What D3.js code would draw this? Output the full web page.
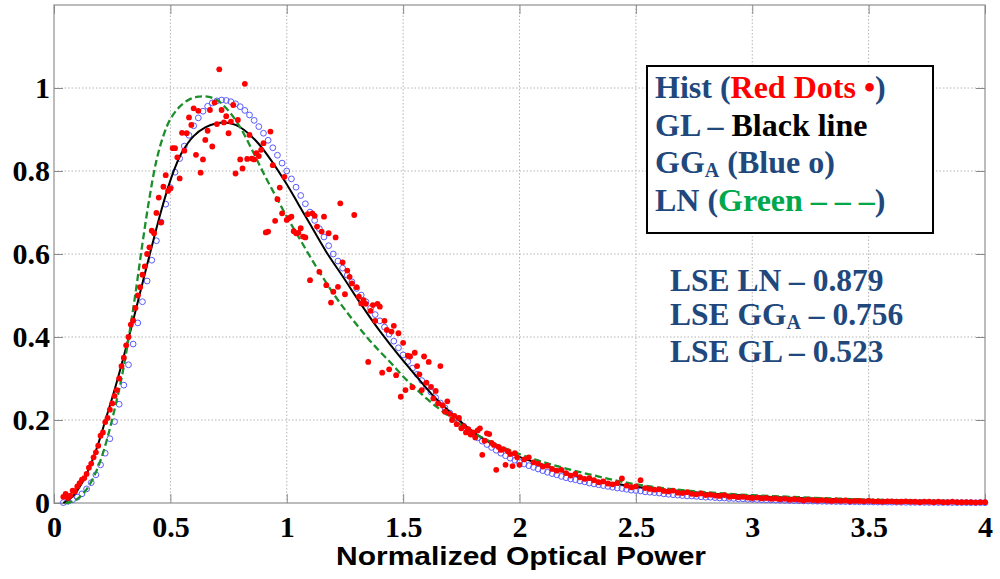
<!DOCTYPE html>
<html>
<head>
<meta charset="utf-8">
<script src="https://cdn.jsdelivr.net/npm/d3@7"></script>
<style>
  body { margin: 0; background: #fff; }
  .tick text { font-family: 'Liberation Serif', 'Times New Roman', serif; font-weight: bold; font-size: 30px; fill: #000; }
  .tick line { stroke: #8a8a8a; stroke-width: 1; }
</style>
</head>
<body>
<svg id="j-svg" width="1000" height="579" viewBox="0 0 1000 579"></svg>
<script>
/* global d3 */

// axis ticks
const xTicks = [0, 0.5, 1, 1.5, 2, 2.5, 3, 3.5, 4];
const yTicks = [0, 0.2, 0.4, 0.6, 0.8, 1];

// histogram (red dots): bins 0.04..1.99 step 0.01, then 2.00..4.00 step 0.02
const histStartA = 0.04, histStepA = 0.01;
const histA = [
  0.015, 0.022, 0.012, 0.018, 0.030, 0.028, 0.040, 0.048, 0.056, 0.060,
  0.070, 0.085, 0.095, 0.110, 0.122, 0.138, 0.162, 0.170, 0.195, 0.205,
  0.225, 0.240, 0.258, 0.272, 0.300, 0.330, 0.350, 0.380, 0.400, 0.430,
  0.440, 0.470, 0.500, 0.520, 0.550, 0.570, 0.600, 0.616, 0.656, 0.650,
  0.699, 0.736, 0.676, 0.762, 0.790, 0.752, 0.758, 0.855, 0.855, 0.833,
  0.782, 0.892, 0.849, 0.891, 0.929, 0.911, 0.951, 0.839, 0.945, 0.796,
  0.828, 0.875, 0.897, 0.947, 0.859, 0.965, 0.913, 1.045, 0.947, 0.917,
  0.932, 0.891, 0.919, 0.959, 0.794, 0.923, 0.828, 0.806, 1.010, 0.829,
  0.887, 0.830, 0.828, 0.843, 0.836, 0.851, 0.867, 0.652, 0.654, 0.895,
  0.814, 0.680, 0.732, 0.760, 0.698, 0.786, 0.682, 0.687, 0.690, 0.655,
  0.650, 0.651, 0.662, 0.642, 0.640, 0.696, 0.537, 0.698, 0.692, 0.666,
  0.557, 0.654, 0.690, 0.525, 0.650, 0.483, 0.509, 0.640, 0.521, 0.722,
  0.580, 0.503, 0.560, 0.545, 0.529, 0.694, 0.520, 0.497, 0.481, 0.489,
  0.480, 0.340, 0.463, 0.477, 0.439, 0.480, 0.473, 0.314, 0.439, 0.417,
  0.322, 0.413, 0.427, 0.308, 0.409, 0.256, 0.386, 0.272, 0.355, 0.353,
  0.279, 0.362, 0.330, 0.310, 0.272, 0.353, 0.290, 0.340, 0.280, 0.252,
  0.270, 0.240, 0.330, 0.235, 0.220, 0.245, 0.215, 0.200, 0.210, 0.190,
  0.205, 0.180, 0.185, 0.170, 0.178, 0.165, 0.170, 0.158, 0.175, 0.180,
  0.116, 0.150, 0.168, 0.166, 0.145, 0.140, 0.080, 0.135, 0.128, 0.130,
  0.092, 0.125, 0.118, 0.089, 0.120, 0.110
];
const histStartB = 2.0, histStepB = 0.02;
const histB = [
  0.092, 0.105, 0.110, 0.098, 0.095, 0.088, 0.090, 0.082, 0.078, 0.080,
  0.072, 0.066, 0.070, 0.062, 0.058, 0.060, 0.055, 0.050, 0.052, 0.047,
  0.045, 0.048, 0.059, 0.042, 0.038, 0.040, 0.055, 0.036, 0.034, 0.032,
  0.033, 0.029, 0.028, 0.030, 0.025, 0.024, 0.026, 0.022, 0.021, 0.023,
  0.019, 0.020, 0.018, 0.017, 0.019, 0.015, 0.016, 0.014, 0.015, 0.013,
  0.012, 0.013, 0.011, 0.012, 0.010, 0.011, 0.009, 0.010, 0.008, 0.009,
  0.008, 0.006, 0.008, 0.007, 0.006, 0.007, 0.006, 0.005, 0.006, 0.005,
  0.006, 0.004, 0.005, 0.005, 0.004, 0.005, 0.004, 0.004, 0.003, 0.004,
  0.004, 0.003, 0.003, 0.004, 0.003, 0.003, 0.002, 0.003, 0.003, 0.002,
  0.003, 0.002, 0.002, 0.003, 0.002, 0.002, 0.002, 0.002, 0.001, 0.002,
  0.002
];

// GG_A fit (blue circles): samples 0.04..4.00 step 0.02
const ggaStart = 0.04, ggaStep = 0.02;
const ggaY = [
  0.001, 0.004, 0.008, 0.014, 0.022, 0.034, 0.049, 0.068, 0.092, 0.120,
  0.155, 0.196, 0.238, 0.284, 0.333, 0.383, 0.434, 0.485, 0.535, 0.585,
  0.632, 0.677, 0.720, 0.760, 0.797, 0.830, 0.860, 0.886, 0.909, 0.928,
  0.944, 0.956, 0.964, 0.969, 0.971, 0.970, 0.967, 0.962, 0.955, 0.946,
  0.935, 0.922, 0.907, 0.891, 0.874, 0.856, 0.838, 0.819, 0.800, 0.781,
  0.761, 0.741, 0.721, 0.701, 0.681, 0.661, 0.641, 0.620, 0.600, 0.583,
  0.566, 0.549, 0.533, 0.517, 0.501, 0.485, 0.469, 0.454, 0.439, 0.424,
  0.407, 0.390, 0.374, 0.357, 0.341, 0.325, 0.310, 0.295, 0.281, 0.267,
  0.254, 0.241, 0.229, 0.217, 0.206, 0.195, 0.185, 0.175, 0.166, 0.157,
  0.149, 0.141, 0.134, 0.127, 0.120, 0.114, 0.108, 0.103, 0.098, 0.094,
  0.090, 0.086, 0.082, 0.078, 0.074, 0.071, 0.068, 0.064, 0.061, 0.058,
  0.056, 0.053, 0.051, 0.048, 0.046, 0.044, 0.042, 0.040, 0.038, 0.036,
  0.035, 0.033, 0.031, 0.030, 0.029, 0.027, 0.026, 0.025, 0.024, 0.022,
  0.021, 0.020, 0.019, 0.018, 0.017, 0.017, 0.016, 0.015, 0.014, 0.014,
  0.013, 0.012, 0.012, 0.011, 0.011, 0.010, 0.010, 0.009, 0.009, 0.0085,
  0.008, 0.0077, 0.0073, 0.007, 0.0066, 0.0063, 0.006, 0.0057, 0.0054, 0.0051,
  0.0049, 0.0046, 0.0044, 0.0042, 0.004, 0.0038, 0.0036, 0.0034, 0.0033, 0.0031,
  0.003, 0.0028, 0.0027, 0.0025, 0.0024, 0.0023, 0.0022, 0.0021, 0.002, 0.0019,
  0.0018, 0.0017, 0.0016, 0.0015, 0.0015, 0.0014, 0.0013, 0.0013, 0.0012, 0.0011,
  0.0011, 0.001, 0.001, 0.0009, 0.0009, 0.0008, 0.0008, 0.0008, 0.0007
];

// GL fit (black line)
const glX = [0.04, 0.06, 0.08, 0.10, 0.12, 0.14, 0.16, 0.18, 0.20, 0.22, 0.25, 0.28, 0.31, 0.34, 0.37, 0.40,
  0.43, 0.46, 0.49, 0.52, 0.55, 0.60, 0.65, 0.70, 0.735, 0.78, 0.83, 0.88, 0.93, 1.00, 1.05, 1.10, 1.17,
  1.25, 1.30, 1.386, 1.45, 1.50, 1.55, 1.63, 1.70, 1.76, 1.83, 1.90, 2.00, 2.10, 2.26, 2.40, 2.50, 2.75,
  3.00, 3.25, 3.50, 3.75, 4.00];
const glY = [0.000, 0.006, 0.016, 0.030, 0.048, 0.070, 0.096, 0.126, 0.160, 0.198, 0.253, 0.312, 0.375, 0.440, 0.507, 0.574,
  0.640, 0.703, 0.760, 0.808, 0.845, 0.884, 0.905, 0.915, 0.917, 0.911, 0.893, 0.865, 0.828, 0.768, 0.720, 0.672, 0.605,
  0.538, 0.495, 0.425, 0.378, 0.343, 0.310, 0.258, 0.220, 0.190, 0.160, 0.138, 0.111, 0.092, 0.063, 0.048, 0.039, 0.026,
  0.017, 0.011, 0.007, 0.005, 0.003];

// LN fit (green dashed)
const lnX = [0.05, 0.08, 0.11, 0.14, 0.17, 0.20, 0.23, 0.26, 0.29, 0.32, 0.35, 0.38, 0.41, 0.44, 0.47, 0.50, 0.54, 0.58,
  0.62, 0.66, 0.70, 0.75, 0.80, 0.85, 0.90, 0.95, 1.00, 1.05, 1.10, 1.15, 1.20, 1.25, 1.30, 1.35, 1.40, 1.45, 1.50,
  1.55, 1.60, 1.65, 1.70, 1.75, 1.80, 1.85, 1.90, 1.95, 2.00, 2.10, 2.20, 2.30, 2.40, 2.50, 2.60, 2.70, 2.80, 2.90,
  3.00, 3.20, 3.40, 3.60, 3.80, 4.00];
const lnY = [0.000, 0.004, 0.014, 0.033, 0.062, 0.103, 0.158, 0.225, 0.300, 0.395, 0.505, 0.625, 0.735, 0.825, 0.885, 0.925, 0.955, 0.972,
  0.979, 0.979, 0.971, 0.945, 0.905, 0.852, 0.795, 0.742, 0.690, 0.642, 0.594, 0.548, 0.505, 0.466, 0.430, 0.396, 0.365, 0.336, 0.305,
  0.278, 0.252, 0.229, 0.208, 0.188, 0.170, 0.155, 0.141, 0.129, 0.118, 0.099, 0.083, 0.069, 0.056, 0.045, 0.037, 0.031, 0.026, 0.022,
  0.019, 0.014, 0.010, 0.007, 0.005, 0.004];

// least squares errors
const lseModels = ['LN', 'GG', 'GL'];
const lseSubs = ['', 'A', ''];
const lseValues = [0.879, 0.756, 0.523];

const svg = d3.select('#j-svg');
const margins = { top: 5, right: 15, bottom: 76, left: 54 };
const width = 1000 - margins.left - margins.right;
const height = 579 - margins.top - margins.bottom;

const g = svg.append('g').attr('transform', 'translate(' + margins.left + ',' + margins.top + ')');

const x = d3.scaleLinear().domain([0, 4]).range([0, width]);
const y = d3.scaleLinear().domain([0, 1.2]).range([height, 0]);

// grid
const grid = g.append('g').attr('stroke', '#b4b4b4').attr('stroke-width', 1).attr('stroke-dasharray', '1.5,2');
grid.selectAll('.vg').data(xTicks.filter(d => d > 0 && d < 4)).enter().append('line')
  .attr('x1', d => x(d)).attr('x2', d => x(d)).attr('y1', 0).attr('y2', height);
grid.selectAll('.hg').data(yTicks.filter(d => d > 0)).enter().append('line')
  .attr('x1', 0).attr('x2', width).attr('y1', d => y(d)).attr('y2', d => y(d));

// frame
g.append('rect').attr('width', width).attr('height', height)
  .attr('fill', 'none').attr('stroke', '#a6a6a6').attr('stroke-width', 1.5);

const fmt = d3.format('~g');
const xAxis = d3.axisBottom(x).tickValues(xTicks).tickFormat(fmt).tickSizeInner(-9).tickSizeOuter(0).tickPadding(13);
const yAxis = d3.axisLeft(y).tickValues(yTicks).tickFormat(fmt).tickSizeInner(-9).tickSizeOuter(0).tickPadding(4);

g.append('g').attr('class', 'x-axis').attr('transform', 'translate(0,' + height + ')').call(xAxis);
g.append('g').attr('class', 'y-axis').call(yAxis);
g.append('g').call(d3.axisTop(x).tickValues(xTicks).tickFormat('').tickSizeInner(-9).tickSizeOuter(0));
g.append('g').attr('transform', 'translate(' + width + ',0)')
  .call(d3.axisRight(y).tickValues(yTicks).tickFormat('').tickSizeInner(-9).tickSizeOuter(0));
g.selectAll('.domain').remove();

// fits
const ggaData = ggaY.map((v, i) => ({ x: ggaStart + i * ggaStep, y: v }));
g.append('g').selectAll('circle').data(ggaData).enter().append('circle')
  .attr('cx', d => x(d.x)).attr('cy', d => y(d.y)).attr('r', 2.9)
  .attr('fill', 'none').attr('stroke', '#5a5aff').attr('stroke-width', 1);

const line = d3.line().x(d => x(d[0])).y(d => y(d[1])).curve(d3.curveCatmullRom);

g.append('path').datum(glX.map((v, i) => [v, glY[i]]))
  .attr('d', line).attr('fill', 'none').attr('stroke', '#000').attr('stroke-width', 2);

g.append('path').datum(lnX.map((v, i) => [v, lnY[i]]))
  .attr('d', line).attr('fill', 'none').attr('stroke', '#1a8f2a').attr('stroke-width', 2.3)
  .attr('stroke-dasharray', '7,3.5');

// histogram dots
const histData = histA.map((v, i) => ({ x: histStartA + i * histStepA, y: v }))
  .concat(histB.map((v, i) => ({ x: histStartB + i * histStepB, y: v })));
g.append('g').selectAll('circle').data(histData).enter().append('circle')
  .attr('cx', d => x(d.x)).attr('cy', d => y(d.y)).attr('r', 2.9).attr('fill', '#ff0000');

// x label
svg.append('text').attr('x', 521).attr('y', 565).attr('text-anchor', 'middle')
  .attr('font-family', "'Liberation Sans', Arial, sans-serif").attr('font-weight', 'bold')
  .attr('font-size', 25).attr('textLength', 370).attr('lengthAdjust', 'spacingAndGlyphs')
  .text('Normalized Optical Power');

// legend box
const blue = '#21487d';
const serif = "'Liberation Serif', 'Times New Roman', serif";
const leg = svg.append('g').attr('font-family', serif).attr('font-weight', 'bold').attr('font-size', 32);
leg.append('rect').attr('x', 647).attr('y', 66).attr('width', 286).attr('height', 167)
  .attr('fill', '#fff').attr('stroke', '#000').attr('stroke-width', 2);

const l1 = leg.append('text').attr('x', 655).attr('y', 98);
l1.append('tspan').attr('fill', blue).text('Hist (');
l1.append('tspan').attr('fill', '#ff0000').text('Red Dots •');
l1.append('tspan').attr('fill', blue).text(')');

const l2 = leg.append('text').attr('x', 655).attr('y', 135.5);
l2.append('tspan').attr('fill', blue).text('GL – ');
l2.append('tspan').attr('fill', '#000').text('Black line');

const l3 = leg.append('text').attr('x', 655).attr('y', 173).attr('fill', blue);
l3.append('tspan').text('GG');
l3.append('tspan').attr('font-size', 20).attr('dy', 4).text('A');
l3.append('tspan').attr('dy', -4).text(' (Blue o)');

const l4 = leg.append('text').attr('x', 655).attr('y', 211);
l4.append('tspan').attr('fill', blue).text('LN (');
l4.append('tspan').attr('fill', '#00a84a').text('Green – – –');
l4.append('tspan').attr('fill', blue).text(')');

// LSE annotations
const lseY = [291, 325, 362];
const lse = svg.append('g').attr('font-family', serif).attr('font-weight', 'bold')
  .attr('font-size', 31.5).attr('fill', blue);
lseModels.forEach((m, i) => {
  const t = lse.append('text').attr('x', 670).attr('y', lseY[i]);
  t.append('tspan').text('LSE ' + m);
  if (lseSubs[i]) {
    t.append('tspan').attr('font-size', 20).attr('dy', 4).text(lseSubs[i]);
    t.append('tspan').attr('dy', -4).text(' – ' + lseValues[i].toFixed(3));
  } else {
    t.append('tspan').text(' – ' + lseValues[i].toFixed(3));
  }
});
</script>
</body>
</html>
